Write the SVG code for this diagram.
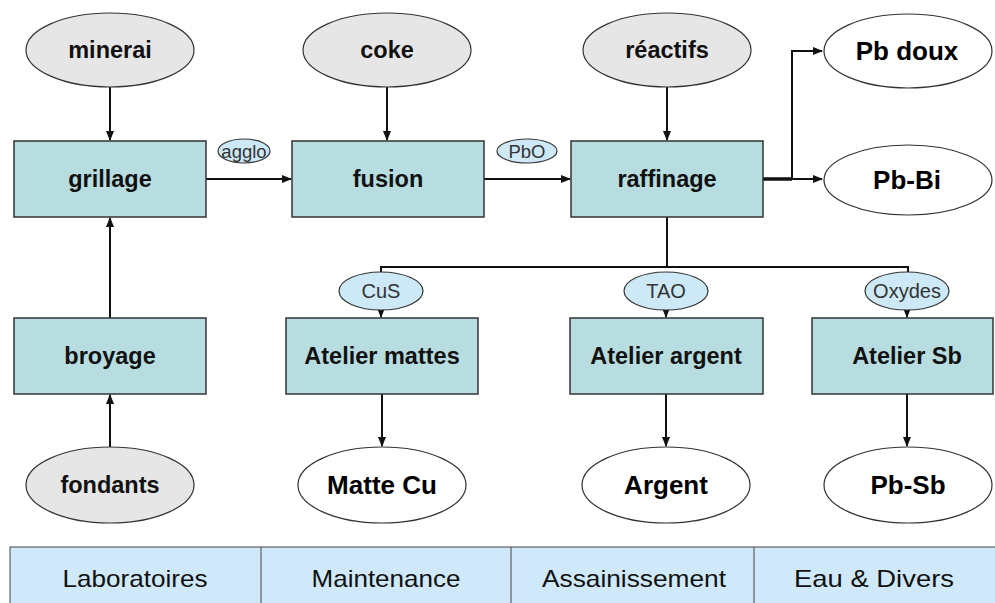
<svg xmlns="http://www.w3.org/2000/svg" width="995" height="603" viewBox="0 0 995 603">
<style>
.box{fill:#b7dde0;stroke:#333;stroke-width:1.5}
.in{fill:#e6e6e6;stroke:#333;stroke-width:1.2}
.out{fill:#fff;stroke:#333;stroke-width:1.2}
.sm{fill:#cde9f8;stroke:#333;stroke-width:1.2}
.t{font-family:"Liberation Sans",Arial,sans-serif;font-weight:bold;font-size:23.5px;fill:#111;text-anchor:middle}
.to{font-family:"Liberation Sans",Arial,sans-serif;font-weight:bold;font-size:26px;fill:#000;text-anchor:middle}
.ts{font-family:"Liberation Sans",Arial,sans-serif;font-size:20px;fill:#333;text-anchor:middle}
.tb{font-family:"Liberation Sans",Arial,sans-serif;font-size:24px;fill:#111;text-anchor:middle}
.c{fill:none;stroke:#111;stroke-width:2}
</style>
<defs>
<marker id="ah" markerUnits="userSpaceOnUse" markerWidth="10" markerHeight="8" refX="9" refY="4" orient="auto">
<path d="M0,0 L10,4 L0,8 z" fill="#111"/>
</marker>
</defs>
<g id="connectors">
<path class="c" d="M110,87 V140" marker-end="url(#ah)"/>
<path class="c" d="M387,87 V140" marker-end="url(#ah)"/>
<path class="c" d="M667,87 V140" marker-end="url(#ah)"/>
<path class="c" d="M206,179 H291" marker-end="url(#ah)"/>
<path class="c" d="M484,179 H570" marker-end="url(#ah)"/>
<path class="c" d="M763,179 H792" style="stroke-width:3.5"/>
<path class="c" d="M792,179 H822" marker-end="url(#ah)"/>
<path class="c" d="M792,179 V51 H822" marker-end="url(#ah)"/>
<path class="c" d="M110,318 V218" marker-end="url(#ah)"/>
<path class="c" d="M110,447 V395" marker-end="url(#ah)"/>
<path class="c" d="M667,217 V267"/>
<path class="c" d="M381,272 V267 H908 V272"/>
<path class="c" d="M381,310 V317" marker-end="url(#ah)"/>
<path class="c" d="M666,310 V317" marker-end="url(#ah)"/>
<path class="c" d="M907,310 V317" marker-end="url(#ah)"/>
<path class="c" d="M382,394 V446" marker-end="url(#ah)"/>
<path class="c" d="M666,394 V446" marker-end="url(#ah)"/>
<path class="c" d="M907,394 V446" marker-end="url(#ah)"/>
</g>
<g id="minerai"><ellipse class="in" cx="110" cy="50" rx="84" ry="37"/><text class="t" x="110" y="58">minerai</text></g>
<g id="coke"><ellipse class="in" cx="387" cy="50" rx="84" ry="37"/><text class="t" x="387" y="58">coke</text></g>
<g id="reactifs"><ellipse class="in" cx="667" cy="50" rx="84" ry="37"/><text class="t" x="667" y="58">réactifs</text></g>
<g id="pbdoux"><ellipse class="out" cx="908" cy="51" rx="84" ry="37"/><text class="to" x="907" y="60">Pb doux</text></g>
<g id="pbbi"><ellipse class="out" cx="908" cy="180" rx="84" ry="35"/><text class="to" x="907" y="189">Pb-Bi</text></g>
<g id="grillage"><rect class="box" x="14" y="141" width="192" height="76"/><text class="t" x="110" y="187">grillage</text></g>
<g id="fusion"><rect class="box" x="292" y="141" width="192" height="76"/><text class="t" x="388" y="187">fusion</text></g>
<g id="raffinage"><rect class="box" x="571" y="141" width="192" height="76"/><text class="t" x="667" y="187">raffinage</text></g>
<g id="agglo"><ellipse class="sm" cx="244" cy="151" rx="26" ry="12"/><text class="ts" x="244" y="158" style="font-size:18.5px">agglo</text></g>
<g id="pbo"><ellipse class="sm" cx="527" cy="151" rx="30" ry="12"/><text class="ts" x="527" y="158" style="font-size:18.5px">PbO</text></g>
<g id="broyage"><rect class="box" x="14" y="318" width="192" height="76"/><text class="t" x="110" y="364">broyage</text></g>
<g id="mattes"><rect class="box" x="286" y="318" width="192" height="76"/><text class="t" x="382" y="364">Atelier mattes</text></g>
<g id="argent"><rect class="box" x="570" y="318" width="193" height="76"/><text class="t" x="666" y="364">Atelier argent</text></g>
<g id="sb"><rect class="box" x="812" y="318" width="181" height="76"/><text class="t" x="907" y="364">Atelier Sb</text></g>
<g id="cus"><ellipse class="sm" cx="381" cy="291" rx="42" ry="19"/><text class="ts" x="381" y="298">CuS</text></g>
<g id="tao"><ellipse class="sm" cx="666" cy="291" rx="42" ry="19"/><text class="ts" x="666" y="298">TAO</text></g>
<g id="oxydes"><ellipse class="sm" cx="907" cy="291" rx="42" ry="19"/><text class="ts" x="907" y="298">Oxydes</text></g>
<g id="fondants"><ellipse class="in" cx="110" cy="485" rx="84" ry="38"/><text class="t" x="110" y="493">fondants</text></g>
<g id="mattecu"><ellipse class="out" cx="382" cy="485" rx="84" ry="38"/><text class="to" x="382" y="494">Matte Cu</text></g>
<g id="argentout"><ellipse class="out" cx="666" cy="485" rx="84" ry="38"/><text class="to" x="666" y="494">Argent</text></g>
<g id="pbsb"><ellipse class="out" cx="908" cy="485" rx="84" ry="38"/><text class="to" x="908" y="494">Pb-Sb</text></g>
<g id="services">
<rect x="10" y="547" width="995" height="70" fill="#cfe9fa" stroke="#444" stroke-width="1"/>
<line x1="261" y1="547" x2="261" y2="603" stroke="#444" stroke-width="1"/>
<line x1="511" y1="547" x2="511" y2="603" stroke="#444" stroke-width="1"/>
<line x1="754" y1="547" x2="754" y2="603" stroke="#444" stroke-width="1"/>
<text class="tb" x="135" y="587" textLength="145" lengthAdjust="spacingAndGlyphs">Laboratoires</text>
<text class="tb" x="386" y="587" textLength="149" lengthAdjust="spacingAndGlyphs">Maintenance</text>
<text class="tb" x="634" y="587" textLength="184" lengthAdjust="spacingAndGlyphs">Assainissement</text>
<text class="tb" x="874" y="587" textLength="160" lengthAdjust="spacingAndGlyphs">Eau &amp; Divers</text>
</g>
</svg>
